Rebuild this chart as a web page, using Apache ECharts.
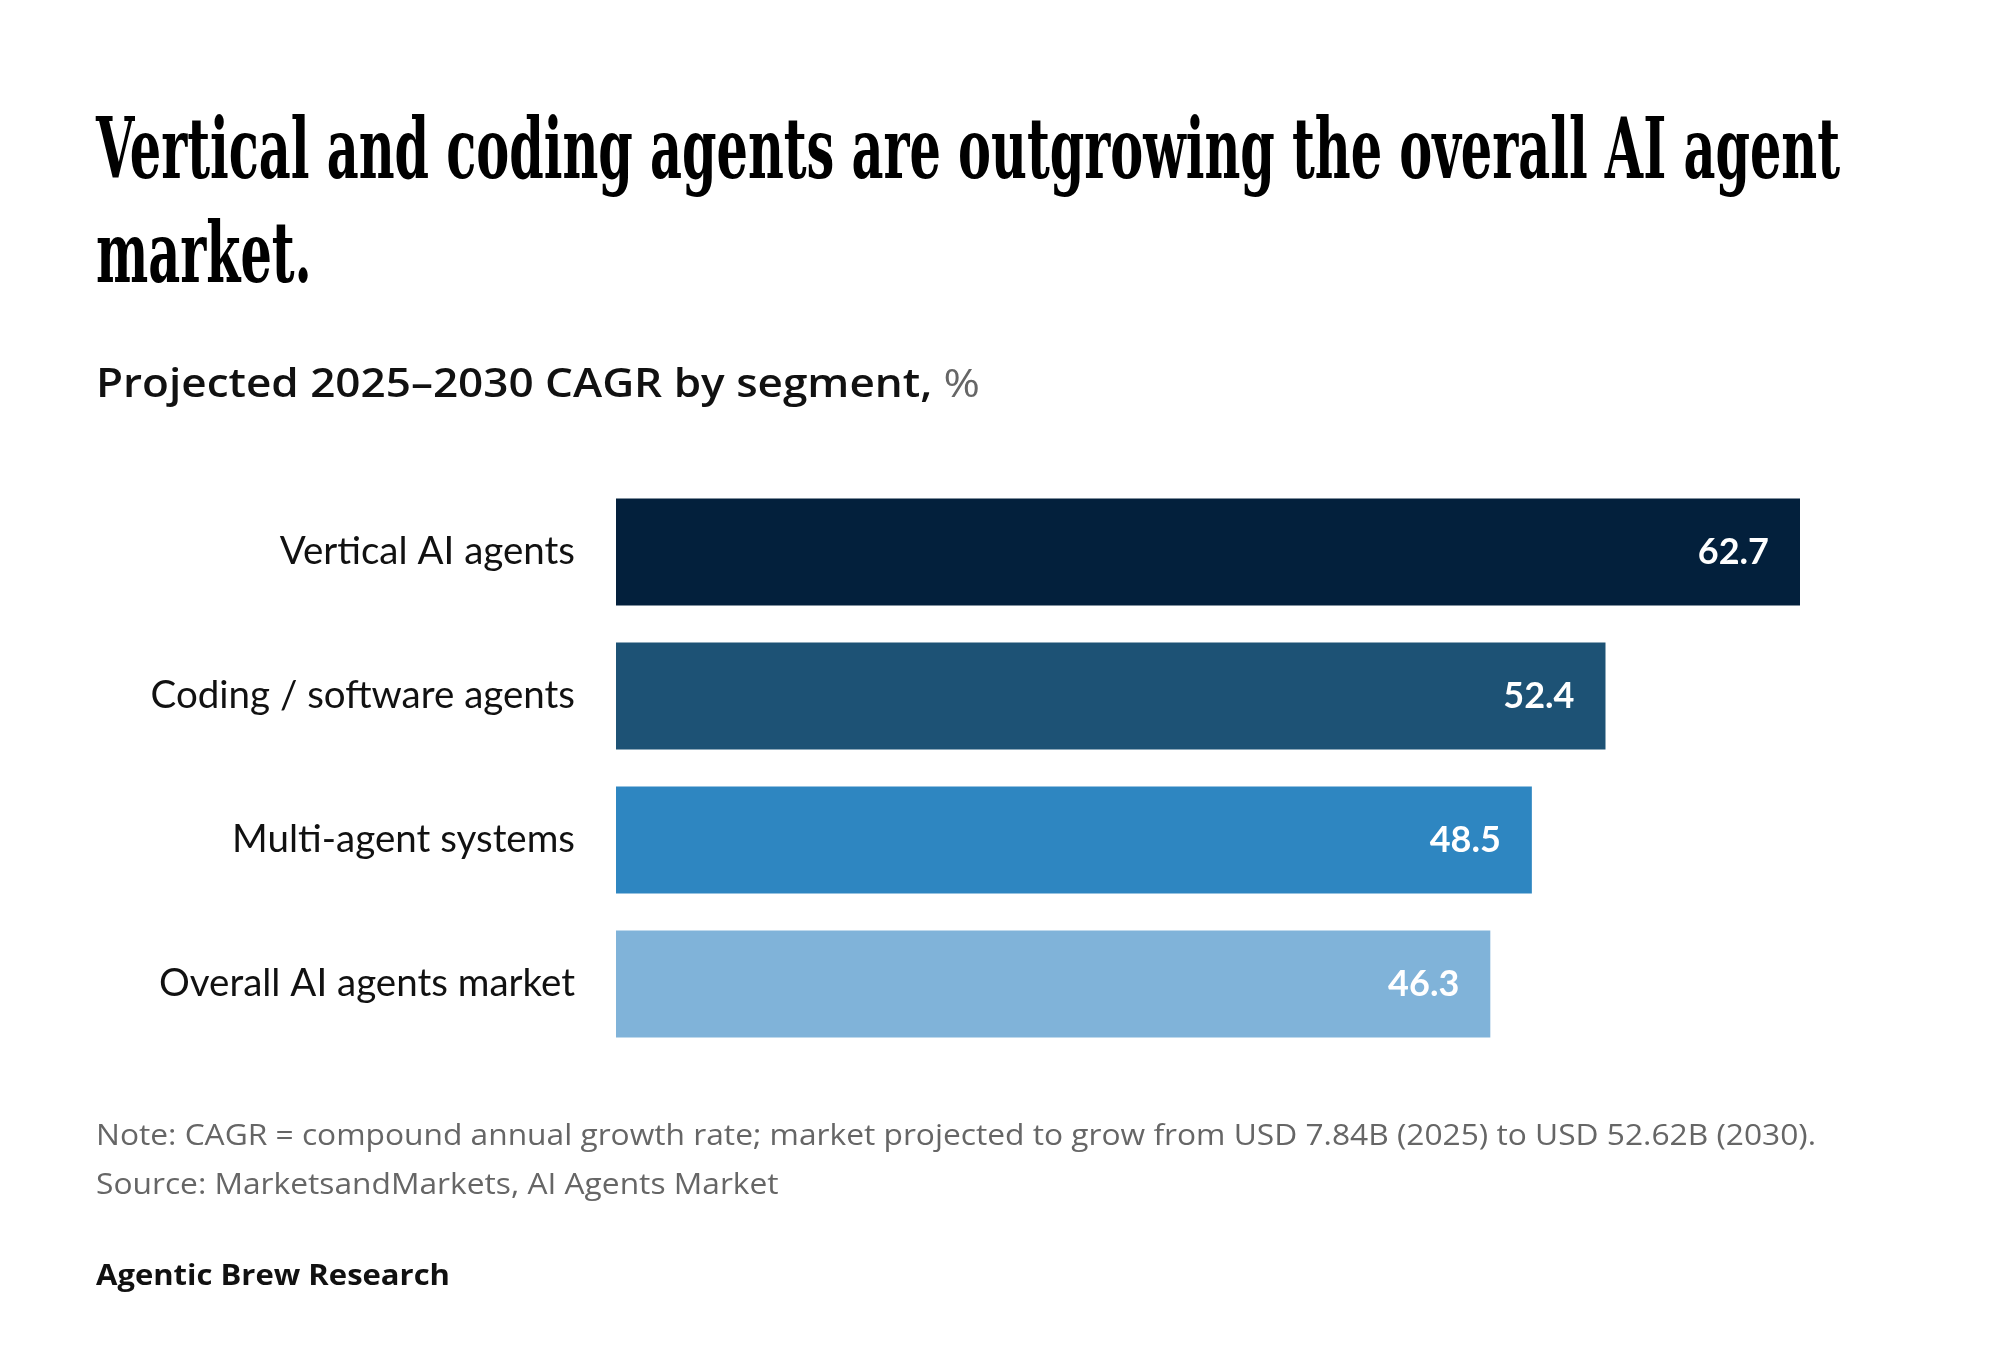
<!DOCTYPE html>
<html>
<head>
<meta charset="utf-8">
<script src="https://cdn.jsdelivr.net/npm/echarts@6/dist/echarts.min.js"></script>
<style>
html,body{margin:0;padding:0;background:#fff;}
#chart{width:2000px;height:1366px;}
</style>
</head>
<body>
<div id="chart"></div>
<script>
// ---- data ----
const categories = ["Vertical AI agents", "Coding / software agents", "Multi-agent systems", "Overall AI agents market"];
const values = [62.7, 52.4, 48.5, 46.3];
const barColors = ["#03203c", "#1d5275", "#2e86c1", "#80b3d9"];
const titleLines = ["Vertical and coding agents are outgrowing the overall AI agent", "market."];
const subtitleMain = "Projected 2025\u20132030 CAGR by segment,";
const subtitleUnit = "%";
const noteLine = "Note: CAGR = compound annual growth rate; market projected to grow from USD 7.84B (2025) to USD 52.62B (2030).";
const sourceLine = "Source: MarketsandMarkets, AI Agents Market";
const brandLine = "Agentic Brew Research";

// ---- helpers ----
const ctx = document.createElement('canvas').getContext('2d');
function measure(text, font) { ctx.font = font; return ctx.measureText(text).width; }

const TITLE_FONT = 'bold 84px "DejaVu Serif"';
const SUB_A = '600 39px "Open Sans"';
const SUB_B = '400 39px "Open Sans"';
const NOTE_FONT = '400 30px "Open Sans"';
const BRAND_FONT = 'bold 29px "Open Sans"';

const titleScale = 1744 / measure(titleLines[0], TITLE_FONT);
const subScale = 884 / (measure(subtitleMain + ' ', SUB_A) + measure(subtitleUnit, SUB_B));
const noteScale = 1720 / measure(noteLine, NOTE_FONT);
const brandScale = 354 / measure(brandLine, BRAND_FONT);

const chart = echarts.init(document.getElementById('chart'), null, {renderer: 'canvas'});
const option = {
  backgroundColor: '#ffffff',
  animation: false,
  grid: {left: 616, top: 480, width: 1184, height: 576, containLabel: false},
  xAxis: {
    type: 'value', min: 0, max: Math.max(...values),
    show: false, splitLine: {show: false}
  },
  yAxis: {
    type: 'category', data: categories, inverse: true,
    axisLine: {show: false}, axisTick: {show: false}, splitLine: {show: false},
    axisLabel: {margin: 41, fontSize: 38.5, color: '#111111', fontFamily: 'Lato'}
  },
  series: [{
    type: 'bar',
    barWidth: 107,
    data: values.map((v, i) => ({value: v, itemStyle: {color: barColors[i]}})),
    label: {
      show: true, position: 'insideRight', distance: 31,
      color: '#ffffff', fontSize: 36, fontWeight: 'bold', fontFamily: 'Lato',
      formatter: p => p.value.toFixed(1)
    }
  }],
  graphic: [
    {type: 'text', x: 96, y: 114, scaleX: titleScale,
     style: {text: titleLines[0], font: TITLE_FONT, fill: '#000'}},
    {type: 'text', x: 96, y: 218, scaleX: titleScale,
     style: {text: titleLines[1], font: TITLE_FONT, fill: '#000'}},
    {type: 'text', x: 96, y: 366, scaleX: subScale,
     style: {
       text: '{a|' + subtitleMain + ' }{b|' + subtitleUnit + '}',
       rich: {
         a: {font: SUB_A, fill: '#111111'},
         b: {font: SUB_B, fill: '#666666'}
       }
     }},
    {type: 'text', x: 96, y: 1121, scaleX: noteScale,
     style: {text: noteLine, font: NOTE_FONT, fill: '#666666'}},
    {type: 'text', x: 96, y: 1170, scaleX: noteScale,
     style: {text: sourceLine, font: NOTE_FONT, fill: '#666666'}},
    {type: 'text', x: 96, y: 1262, scaleX: brandScale,
     style: {text: brandLine, font: BRAND_FONT, fill: '#111111'}}
  ]
};
chart.setOption(option);
</script>
</body>
</html>
